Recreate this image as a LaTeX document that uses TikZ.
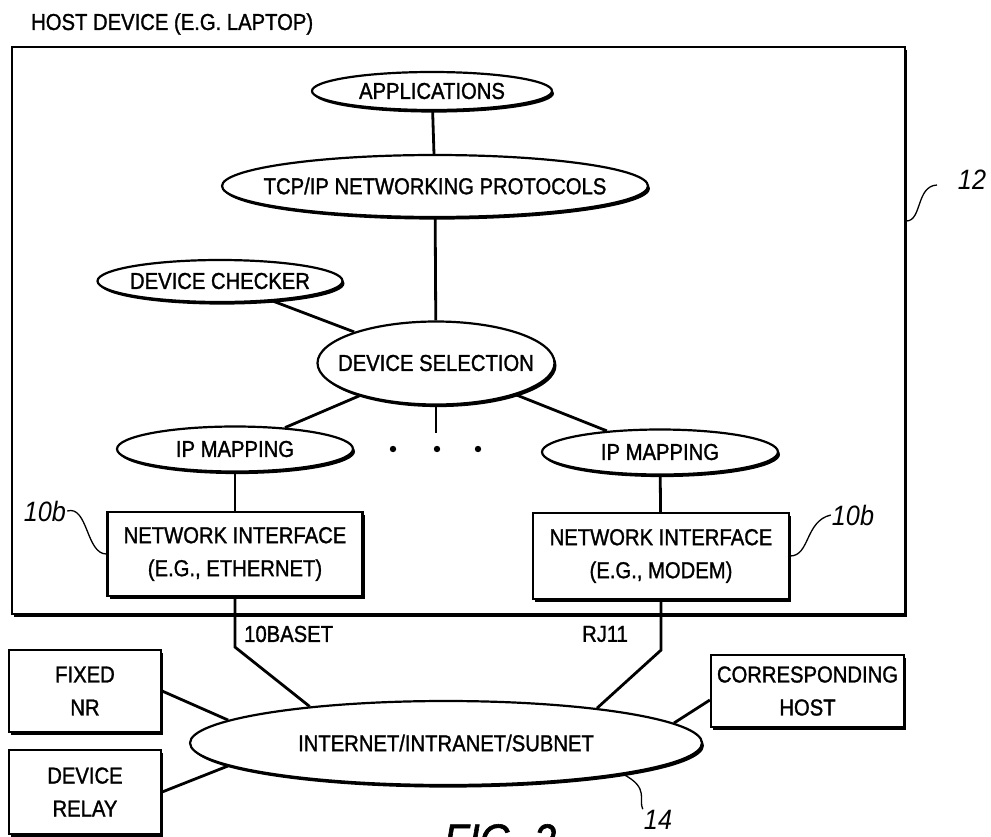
\documentclass[tikz,border=0pt]{standalone}
\usepackage{fontspec}
\setmainfont{Liberation Sans}[FakeStretch=0.88, FakeBold=1.3]
\newfontfamily\tagfont{Liberation Sans}[FakeStretch=0.9]
\usetikzlibrary{shapes.geometric,shadows}

\newcommand{\slim}[1]{\makebox[0pt]{#1}}

\tikzset{
  oval/.style={ellipse, draw, line width=2.2pt, fill=white, inner sep=0pt,
    general shadow={fill=black, shadow xshift=2pt, shadow yshift=-2.6pt}},
  unit/.style={rectangle, draw, line width=2.2pt, fill=white, inner sep=0pt, align=center,
    general shadow={fill=black, shadow xshift=2pt, shadow yshift=-2.6pt}},
  wire/.style={line width=2.8pt},
  lead/.style={line width=1.3pt},
  tag/.style={inner sep=1pt, font=\fontsize{28}{30}\tagfont\itshape},
}

\begin{document}
\begin{tikzpicture}[x=1pt, y=-1pt, font=\fontsize{23}{33}\selectfont]
  \useasboundingbox (0,0) rectangle (991,836);
  \node[anchor=west, inner sep=0pt] (title) at (31,24) {HOST DEVICE (E.G. LAPTOP)};
  \node[unit, line width=2.6pt, minimum width=893pt, minimum height=567pt] (host) at (458.5,330.5) {};
  % protocol stack
  \node[oval, minimum width=240pt, minimum height=38pt] (app) at (432,91) {\slim{APPLICATIONS}};
  \node[oval, minimum width=426pt, minimum height=62pt] (tcp) at (435,186) {\slim{TCP/IP NETWORKING PROTOCOLS}};
  \node[oval, minimum width=245pt, minimum height=42pt] (chk) at (220,281) {\slim{DEVICE CHECKER}};
  \node[oval, minimum width=237pt, minimum height=83pt] (sel) at (436,363) {\slim{DEVICE SELECTION}};
  \node[oval, minimum width=236pt, minimum height=45pt] (ipL) at (235,449) {\slim{IP MAPPING}};
  \node[oval, minimum width=236pt, minimum height=45pt] (ipR) at (660,452) {\slim{IP MAPPING}};
  \node[unit, minimum width=255pt, minimum height=84pt] (niL) at (235,554) {NETWORK INTERFACE\\(E.G., ETHERNET)};
  \node[unit, minimum width=256pt, minimum height=86pt] (niR) at (661,556) {NETWORK INTERFACE\\(E.G., MODEM)};
  \coordinate (stub) at (436,433);
  \draw[wire] (app) -- (tcp);
  \draw[wire] (tcp) -- (sel);
  \draw[wire] (chk) -- (sel);
  \draw[wire] (sel) -- (ipL);
  \draw[wire] (sel) -- (ipR);
  \draw[wire] (sel.south) -- (stub);
  \foreach \x in {393,437,478}
    \fill (\x,449) circle (3.2pt);
  \draw[wire] (ipL) -- (niL);
  \draw[wire] (ipR) -- (niR);
  % network side
  \node[oval, minimum width=512pt, minimum height=84pt] (inet) at (446,743) {\slim{INTERNET/INTRANET/SUBNET}};
  \node[unit, minimum width=152pt, minimum height=82pt] (fixed) at (85,691) {FIXED\\NR};
  \node[unit, minimum width=152pt, minimum height=84pt] (relay) at (85,792) {DEVICE\\RELAY};
  \node[unit, minimum width=193pt, minimum height=72pt] (corr) at (807.5,691) {CORRESPONDING\\HOST};
  \draw[wire] (niL.south) -- ++(0,50) -- (inet.165);
  \draw[wire] (niR.south) -- ++(0,50) -- (inet.13);
  \node[anchor=west, inner sep=0pt] (tenbase) at (244,634) {10BASET};
  \node[anchor=west, inner sep=0pt] (rj) at (582,634) {RJ11};
  \draw[wire] (fixed.east) -- (inet.174);
  \draw[wire] (relay.east) -- (inet.186);
  \draw[wire] ([yshift=-9pt]corr.west) -- (inet.5);
  % reference numerals
  \node[tag] (t12) at (972,180) {12};
  \draw[lead] (host.east |- 0,221) .. controls (922,221) and (916,186) .. (937,185);
  \node[tag] (tagL) at (45,511) {10b};
  \draw[lead] (tagL.east) .. controls (88,505) and (86,554) .. (niL.west);
  \node[tag] (tagR) at (853,515) {10b};
  \draw[lead] (niR.east) .. controls (810,556) and (805,521) .. (tagR.west);
  \node[tag] (t14) at (658,820) {14};
  \draw[lead] (inet.-10) .. controls (650,788) and (638,800) .. (t14.north west);
  \node[anchor=north, inner sep=0pt, font=\fontsize{46}{46}\selectfont\itshape] (fig) at (500,824) {FIG. 2};
\end{tikzpicture}
\end{document}
